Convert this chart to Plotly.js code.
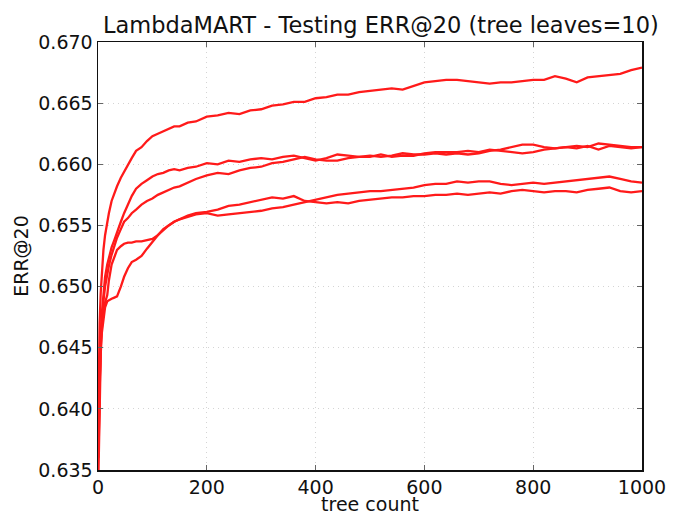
<!DOCTYPE html>
<html>
<head>
<meta charset="utf-8">
<script src="https://cdn.plot.ly/plotly-3.0.1.min.js"></script>
<style>html,body{margin:0;padding:0;background:#fff;}#chart{width:679px;height:515px;}</style>
</head>
<body>
<div id="chart"></div>
<script>
const trees = [1,2,3,5,7,10,13,17,20,25,30,35,42,48,55,62,70,80,90,100,110,120,130,140,150,165,180,200,220,240,260,280,300,320,340,360,380,400,420,440,460,480,500,520,540,560,580,600,620,640,660,680,700,720,740,760,780,800,820,840,860,880,900,920,940,960,980,1000];

const seriesA = [0.6405,0.6440,0.6470,0.6495,0.6514,0.6530,0.6542,0.6553,0.6560,0.6570,0.6577,0.6582,0.6589,0.6594,0.6599,0.6605,0.6611,0.6614,0.6619,0.6623,0.6625,0.6627,0.6629,0.6631,0.6631,0.6634,0.6635,0.6639,0.6640,0.6642,0.6641,0.6644,0.6645,0.6648,0.6649,0.6651,0.6651,0.6654,0.6655,0.6657,0.6657,0.6659,0.6660,0.6661,0.6662,0.6661,0.6664,0.6667,0.6668,0.6669,0.6669,0.6668,0.6667,0.6666,0.6667,0.6667,0.6668,0.6669,0.6669,0.6672,0.6670,0.6667,0.6671,0.6672,0.6673,0.6674,0.6677,0.6679];

const seriesB = [0.6380,0.6410,0.6435,0.6460,0.6478,0.6495,0.6508,0.6518,0.6524,0.6532,0.6538,0.6545,0.6553,0.6560,0.6567,0.6574,0.6580,0.6584,0.6587,0.6590,0.6592,0.6593,0.6595,0.6596,0.6595,0.6597,0.6598,0.6601,0.6600,0.6603,0.6602,0.6604,0.6605,0.6604,0.6606,0.6607,0.6605,0.6603,0.6605,0.6608,0.6607,0.6606,0.6607,0.6606,0.6607,0.6609,0.6608,0.6608,0.6609,0.6608,0.6609,0.6608,0.6609,0.6611,0.6612,0.6614,0.6616,0.6616,0.6614,0.6613,0.6614,0.6615,0.6614,0.6617,0.6616,0.6615,0.6614,0.6614];

const seriesC = [0.6360,0.6395,0.6420,0.6450,0.6470,0.6488,0.6500,0.6510,0.6517,0.6526,0.6533,0.6540,0.6547,0.6553,0.6556,0.6560,0.6563,0.6567,0.6570,0.6572,0.6575,0.6577,0.6579,0.6581,0.6582,0.6585,0.6588,0.6591,0.6593,0.6592,0.6595,0.6597,0.6598,0.6601,0.6602,0.6604,0.6606,0.6604,0.6603,0.6603,0.6605,0.6606,0.6606,0.6608,0.6606,0.6607,0.6607,0.6609,0.6610,0.6610,0.6610,0.6611,0.6610,0.6612,0.6611,0.6610,0.6609,0.6610,0.6612,0.6613,0.6614,0.6613,0.6615,0.6612,0.6615,0.6614,0.6613,0.6614];

const seriesD = [0.6370,0.6400,0.6430,0.6455,0.6470,0.6480,0.6487,0.6493,0.6505,0.6518,0.6525,0.6530,0.6533,0.6535,0.6536,0.6536,0.6537,0.6537,0.6538,0.6539,0.6542,0.6546,0.6550,0.6553,0.6555,0.6558,0.6560,0.6561,0.6563,0.6566,0.6567,0.6569,0.6571,0.6573,0.6572,0.6574,0.6570,0.6569,0.6568,0.6569,0.6568,0.6570,0.6571,0.6572,0.6573,0.6573,0.6574,0.6574,0.6575,0.6575,0.6576,0.6575,0.6576,0.6577,0.6576,0.6578,0.6579,0.6578,0.6577,0.6578,0.6578,0.6577,0.6579,0.6580,0.6581,0.6578,0.6577,0.6578];

const seriesE = [0.6350,0.6385,0.6420,0.6445,0.6462,0.6475,0.6483,0.6488,0.6489,0.6490,0.6491,0.6492,0.6500,0.6508,0.6515,0.6520,0.6522,0.6525,0.6531,0.6537,0.6542,0.6547,0.6550,0.6553,0.6555,0.6557,0.6559,0.6560,0.6558,0.6559,0.6560,0.6561,0.6562,0.6564,0.6565,0.6567,0.6569,0.6571,0.6573,0.6575,0.6576,0.6577,0.6578,0.6578,0.6579,0.6580,0.6581,0.6583,0.6584,0.6584,0.6586,0.6585,0.6586,0.6586,0.6584,0.6583,0.6584,0.6585,0.6584,0.6585,0.6586,0.6587,0.6588,0.6589,0.6590,0.6588,0.6586,0.6585];

const xTicks = [0,200,400,600,800,1000];
const yTicks = [0.635,0.640,0.645,0.650,0.655,0.660,0.665,0.670];

const allSeries = [seriesA, seriesB, seriesC, seriesD, seriesE];
const traces = allSeries.map(s => ({
  x: trees, y: s, type: 'scatter', mode: 'lines',
  line: {color: '#ff1a1a', width: 2.3}, showlegend: false, hoverinfo: 'skip'
}));

const font = {family: 'DejaVu Sans, sans-serif', color: '#111', size: 19};
const layout = {
  width: 679, height: 515,
  margin: {l: 98, r: 37, t: 42, b: 45},
  paper_bgcolor: '#fff', plot_bgcolor: '#fff',
  font: font,
  title: {text: 'LambdaMART - Testing ERR@20 (tree leaves=10)', font: {family: 'DejaVu Sans, sans-serif', size: 22.5, color: '#111'},
          x: 0.52, xanchor: 'center', xref: 'paper', y: 0.952, yanchor: 'middle', yref: 'container'},
  xaxis: {
    range: [0, 1000], tickvals: xTicks, ticktext: xTicks.map(String),
    showline: true, linecolor: '#111', linewidth: 1.5, mirror: 'allticks',
    ticks: 'inside', ticklen: 5, tickcolor: '#666',
    showgrid: true, gridcolor: '#d4d4d4', griddash: '1px,4px', gridwidth: 1,
    zeroline: false, tickfont: font,
    title: {text: 'tree count', font: font, standoff: 0}
  },
  yaxis: {
    range: [0.635, 0.670], tickvals: yTicks, ticktext: yTicks.map(v => v.toFixed(3)),
    showline: true, linecolor: '#111', linewidth: 1.5, mirror: 'allticks',
    ticks: 'inside', ticklen: 5, tickcolor: '#666',
    showgrid: true, gridcolor: '#d4d4d4', griddash: '1px,4px', gridwidth: 1,
    zeroline: false, tickfont: font,
    title: {text: 'ERR@20', font: font, standoff: 4}
  }
};

Plotly.newPlot('chart', traces, layout, {displayModeBar: false, staticPlot: true});
</script>
</body>
</html>
